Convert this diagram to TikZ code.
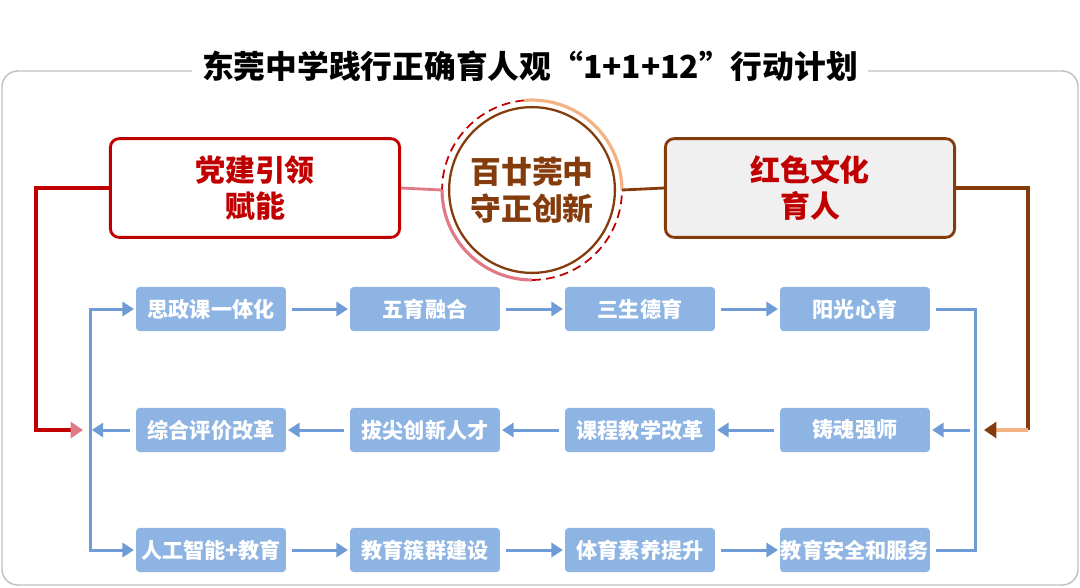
\documentclass[tikz,border=0pt]{standalone}
\usepackage{fontspec}
\setmainfont{Noto Sans CJK SC}
\usetikzlibrary{arrows.meta}
\definecolor{partyred}{HTML}{C00000}
\definecolor{linkpink}{HTML}{E07A86}
\definecolor{soilbrown}{HTML}{843C0C}
\definecolor{ringorange}{HTML}{F4B183}
\definecolor{taskblue}{HTML}{8EB4E3}
\definecolor{flowblue}{HTML}{6F9CD6}
\definecolor{frame}{HTML}{BFBFBF}
\tikzstyle{task}=[shape=rectangle,rounded corners=2pt,fill=taskblue,text=white,font=\bfseries\fontsize{12}{14}\selectfont,minimum width=85pt,minimum height=25pt,inner sep=0pt]
\tikzstyle{flow}=[draw=flowblue,line width=1.7pt,-{Triangle[length=6.5pt,width=8pt]},shorten <=3pt,shorten >=1pt]

\begin{document}
\begin{tikzpicture}[x=0.567pt,y=-0.567pt]
\tikzstyle{pillar}=[shape=rectangle,rounded corners=5pt,line width=1.6pt,minimum width=164pt,minimum height=56pt,align=center,text=partyred,font=\bfseries\fontsize{17}{20}\selectfont,inner sep=0pt]
\useasboundingbox (0,0) rectangle (1080,587);
% frame and title
\draw[frame,line width=0.8pt,rounded corners=9pt] (2,71) rectangle (1078,585);
\node[fill=white,inner xsep=6pt,font=\bfseries\fontsize{18}{20}\selectfont] (title) at (530,66) {东莞中学践行正确育人观“1+1+12”行动计划};
% top row
\node[pillar,draw=partyred] (party) at (255,188) {党建引领\\赋能};
\node[pillar,draw=soilbrown,fill=black!6] (red) at (810,188) {红色文化\\育人};
\node[shape=circle,draw=soilbrown,line width=1.3pt,minimum size=94pt,align=center,text=soilbrown,font=\bfseries\fontsize{17.5}{21}\selectfont,inner sep=0pt] (core) at (532,190) {百廿莞中\\守正创新};
\coordinate (ringW) at ([shift={(180:51pt)}]core.center);
\coordinate (ringE) at ([shift={(0:51pt)}]core.center);
\draw[partyred,line width=1pt,dash pattern=on 5pt off 3pt] ([shift={(95:51pt)}]core.center) arc[start angle=95,end angle=180,radius=51pt];
\draw[partyred,line width=1pt,dash pattern=on 5pt off 3pt] ([shift={(270:51pt)}]core.center) arc[start angle=270,end angle=360,radius=51pt];
\draw[ringorange,line width=1.8pt] (ringE) arc[start angle=0,end angle=95,radius=51pt];
\draw[linkpink,line width=1.8pt] (ringW) arc[start angle=180,end angle=270,radius=51pt];
\draw[linkpink,line width=1.6pt] (party.east) -- (ringW);
\draw[soilbrown,line width=1.6pt] (ringE) -- (red.west);
% blue tasks
\node[task] (a1) at (211,309) {思政课一体化};
\node[task] (a2) at (425,309) {五育融合};
\node[task] (a3) at (640,309) {三生德育};
\node[task] (a4) at (855,309) {阳光心育};
\node[task] (b1) at (211,430) {综合评价改革};
\node[task] (b2) at (425,430) {拔尖创新人才};
\node[task] (b3) at (640,430) {课程教学改革};
\node[task] (b4) at (855,430) {铸魂强师};
\node[task] (c1) at (211,550) {人工智能+教育};
\node[task] (c2) at (425,550) {教育簇群建设};
\node[task] (c3) at (640,550) {体育素养提升};
\node[task] (c4) at (855,550) {教育安全和服务};
\coordinate (hubL) at (90,430);
\coordinate (hubR) at (975,430);
\coordinate (inL) at (83,430);
\coordinate (inR) at (984,430);
\draw[flow] (a1) -- (a2);
\draw[flow] (a2) -- (a3);
\draw[flow] (a3) -- (a4);
\draw[flow] (b4) -- (b3);
\draw[flow] (b3) -- (b2);
\draw[flow] (b2) -- (b1);
\draw[flow] (c1) -- (c2);
\draw[flow] (c2) -- (c3);
\draw[flow] (c3) -- (c4);
\draw[flow] (b1) -- (hubL);
\draw[flow,shorten <=0pt] (hubL) |- (a1);
\draw[flow,shorten <=0pt] (hubL) |- (c1);
\draw[flow] (hubR) -- (b4);
\draw[draw=flowblue,line width=1.7pt,shorten <=3pt,shorten >=3pt] (a4) -| (hubR) |- (c4);
% outer links
\draw[partyred,line width=1.8pt,-{Triangle[length=7pt,width=9pt,color=linkpink]}] (party.west) -- ++(-73,0) |- (inL);
\draw[soilbrown,line width=1.8pt] (red.east) -- ++(72,0) coordinate (turnR) -- (turnR |- inR);
\draw[ringorange,line width=1.8pt,-{Triangle[length=7pt,width=9pt,color=soilbrown]}] (turnR |- inR) -- (inR);
\end{tikzpicture}
\end{document}
